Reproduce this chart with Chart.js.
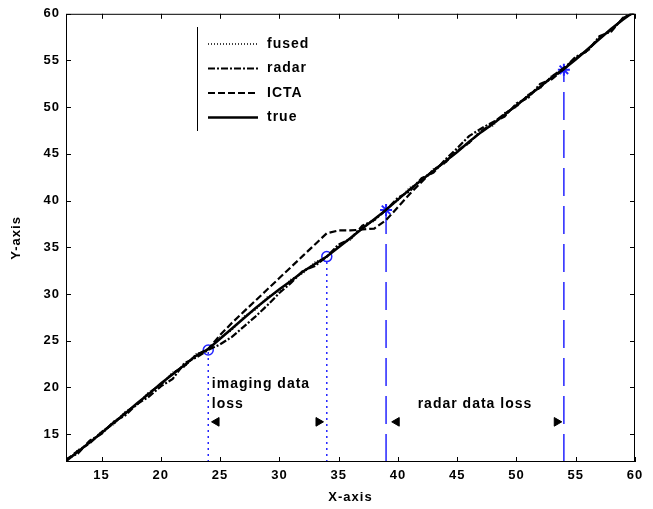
<!DOCTYPE html>
<html lang="en">
<head>
    <meta charset="UTF-8">
    <title>Fused tracking</title>
    <style>
        * { box-sizing: border-box; margin: 0; padding: 0; }
        html, body { width: 653px; height: 509px; background: #fff; }
        #wrap { position: relative; width: 653px; height: 509px; }
    </style>
</head>
<body>
    <div id="wrap"><canvas id="track"></canvas></div>

    <script src="https://cdn.jsdelivr.net/npm/chart.js@4.4.1/dist/chart.umd.min.js"></script>
    <script>
        // x samples shared by all four tracks
        const xs = [12, 13, 14, 15, 16, 17, 18, 19, 20, 21,
            22, 23, 24, 25, 26, 27, 28, 29, 30, 31,
            32, 33, 34, 35, 36, 37, 38, 39, 40, 41,
            42, 43, 44, 45, 46, 47, 48, 49, 50, 51,
            52, 53, 54, 55, 56, 57, 58, 59, 60];

        const fusedY = [12.0, 13.3, 14.0, 15.3, 16.0, 17.4, 18.1, 19.5, 20.2, 21.6,
            22.2, 23.6, 24.0, 25.4, 26.1, 27.6, 28.3, 29.7, 30.3, 31.6,
            32.2, 33.4, 34.0, 35.2, 35.8, 37.2, 37.8, 39.1, 40.0, 41.4,
            42.0, 43.4, 44.0, 45.4, 46.1, 47.6, 48.0, 49.4, 50.0, 51.4,
            52.0, 53.4, 54.0, 55.3, 56.0, 57.5, 58.2, 59.6, 60.1];

        const radarY = [12.3, 12.9, 14.3, 15.0, 16.3, 17.0, 18.2, 19.0, 20.1, 20.9,
            22.6, 23.2, 24.0, 24.6, 25.4, 26.5, 27.6, 28.8, 30.1, 31.2,
            32.5, 33.0, 34.0, 35.3, 35.9, 37.3, 37.9, 39.0, 40.3, 41.0,
            42.4, 43.0, 44.4, 45.6, 46.9, 47.7, 48.4, 49.0, 50.4, 51.0,
            52.5, 53.0, 54.1, 55.4, 56.0, 57.6, 58.1, 59.6, 60.2];

        const ictaY = [12.2, 13.2, 14.0, 15.2, 16.1, 17.3, 18.2, 19.4, 20.3, 21.5,
            22.3, 23.5, 24.1, 25.6, 26.9, 28.1, 29.3, 30.5, 31.7, 32.9,
            34.1, 35.3, 36.5, 36.8, 36.8, 36.9, 37.0, 37.9, 39.3, 40.7,
            42.0, 43.3, 44.1, 45.3, 46.2, 47.4, 48.3, 49.3, 50.1, 51.3,
            52.1, 53.3, 54.2, 55.2, 56.1, 57.4, 58.3, 59.5, 60.2];

        const trueY = [12.1, 13.1, 14.1, 15.1, 16.2, 17.2, 18.3, 19.3, 20.4, 21.4,
            22.4, 23.4, 24.1, 25.2, 26.3, 27.4, 28.5, 29.5, 30.5, 31.4,
            32.4, 33.2, 34.0, 35.0, 36.0, 37.0, 38.0, 39.0, 40.1, 41.2,
            42.2, 43.2, 44.2, 45.2, 46.3, 47.3, 48.2, 49.2, 50.2, 51.2,
            52.2, 53.2, 54.1, 55.1, 56.2, 57.3, 58.4, 59.4, 60.3];

        // where the data losses start/end
        const imagingLoss = [24, 34];   // marked with circles, dotted drop lines
        const radarLoss = [39, 54];     // marked with stars, dashed drop lines
        const arrowY = 16.3;
        const imagingArrowsX = [24.7, 33.3];
        const radarArrowsX = [39.9, 53.4];

        const xTicks = [15, 20, 25, 30, 35, 40, 45, 50, 55, 60];
        const yTicks = [15, 20, 25, 30, 35, 40, 45, 50, 55, 60];

        const notes = [
            { text: 'imaging data', x: 24.3, y: 20.3, align: 'left' },
            { text: 'loss', x: 24.3, y: 18.2, align: 'left' },
            { text: 'radar data loss', x: 46.5, y: 18.2, align: 'center' }
        ];

        const BLUE = '#2323ff';
        const pts = (ys) => xs.map((x, i) => ({ x: x, y: ys[i] }));
        const drop = (x) => [{ x: x, y: 12 }, { x: x, y: x }];

        const lineSet = (label, ys, dash, width) => ({
            label: label, data: pts(ys), borderColor: '#000', borderWidth: width,
            borderDash: dash, pointRadius: 0, fill: false, tension: 0, showLine: true,
            inLegend: true
        });

        const datasets = [
            lineSet('fused', fusedY, [1, 2], 1.5),
            lineSet('radar', radarY, [7, 2, 2, 2], 2.2),
            lineSet('ICTA', ictaY, [7, 3], 2.2),
            lineSet('true', trueY, [], 2.5),
            { data: drop(imagingLoss[0]), showLine: true, borderColor: BLUE, borderWidth: 1.5, borderDash: [2, 4], pointRadius: 0 },
            { data: drop(imagingLoss[1]), showLine: true, borderColor: BLUE, borderWidth: 1.5, borderDash: [2, 4], pointRadius: 0 },
            { data: drop(radarLoss[0]), showLine: true, borderColor: BLUE, borderWidth: 1.5, borderDash: [28, 10], pointRadius: 0 },
            { data: drop(radarLoss[1]), showLine: true, borderColor: BLUE, borderWidth: 1.5, borderDash: [28, 10], pointRadius: 0 },
            {
                data: imagingLoss.map(v => ({ x: v, y: v })), showLine: false, pointStyle: 'circle',
                pointRadius: 5, borderColor: BLUE, backgroundColor: 'rgba(0,0,0,0)', pointBorderWidth: 1.5
            },
            {
                data: radarLoss.map(v => ({ x: v, y: v })), showLine: false, pointStyle: 'star',
                pointRadius: 6, borderColor: BLUE, pointBorderWidth: 2
            },
            {
                data: [{ x: imagingArrowsX[0], y: arrowY }, { x: radarArrowsX[0], y: arrowY }], showLine: false,
                pointStyle: 'triangle', pointRotation: 270, pointRadius: 5, backgroundColor: '#000', borderColor: '#000'
            },
            {
                data: [{ x: imagingArrowsX[1], y: arrowY }, { x: radarArrowsX[1], y: arrowY }], showLine: false,
                pointStyle: 'triangle', pointRotation: 90, pointRadius: 5, backgroundColor: '#000', borderColor: '#000'
            }
        ];

        // box, inward ticks, text notes and the legend
        const framePlugin = {
            id: 'frame',
            beforeDraw(chart) {
                chart.ctx.letterSpacing = '1px';
            },
            afterDraw(chart) {
                const ctx = chart.ctx;
                const a = chart.chartArea;
                const x = chart.scales.x, y = chart.scales.y;
                ctx.save();
                ctx.strokeStyle = '#000';
                ctx.lineWidth = 1;
                ctx.setLineDash([]);
                ctx.strokeRect(a.left + 0.5, a.top + 0.5, a.right - a.left - 1, a.bottom - a.top - 1);
                ctx.beginPath();
                xTicks.forEach(v => {
                    const px = Math.round(x.getPixelForValue(v)) + 0.5;
                    ctx.moveTo(px, a.bottom); ctx.lineTo(px, a.bottom - 5);
                    ctx.moveTo(px, a.top); ctx.lineTo(px, a.top + 5);
                });
                yTicks.forEach(v => {
                    const py = Math.round(y.getPixelForValue(v)) + 0.5;
                    ctx.moveTo(a.left, py); ctx.lineTo(a.left + 5, py);
                    ctx.moveTo(a.right, py); ctx.lineTo(a.right - 5, py);
                });
                ctx.stroke();

                ctx.fillStyle = '#000';
                ctx.font = 'bold 14px "Liberation Sans"';
                ctx.letterSpacing = '1px';
                ctx.textBaseline = 'middle';
                notes.forEach(n => {
                    ctx.textAlign = n.align;
                    ctx.fillText(n.text, x.getPixelForValue(n.x), y.getPixelForValue(n.y));
                });

                // legend box (only its left edge shows)
                ctx.beginPath();
                ctx.moveTo(197.5, 27); ctx.lineTo(197.5, 131);
                ctx.stroke();
                ctx.textAlign = 'left';
                chart.data.datasets.filter(d => d.inLegend).forEach((d, i) => {
                    const ly = 44 + i * 24.5;
                    ctx.beginPath();
                    ctx.lineWidth = d.borderWidth;
                    ctx.setLineDash(d.borderDash);
                    ctx.moveTo(208, ly); ctx.lineTo(258, ly);
                    ctx.stroke();
                    ctx.fillText(d.label, 267, ly);
                });
                ctx.restore();
            }
        };

        Chart.defaults.font.family = '"Liberation Sans", Arial, sans-serif';
        Chart.defaults.font.weight = 'bold';
        Chart.defaults.font.size = 13;
        Chart.defaults.color = '#000';

        new Chart(document.getElementById('track'), {
            type: 'scatter',
            data: { datasets: datasets },
            options: {
                responsive: true,
                maintainAspectRatio: false,
                animation: false,
                events: [],
                layout: { padding: { top: 12, right: 18, left: 0, bottom: 0 } },
                plugins: { legend: { display: false }, tooltip: { enabled: false } },
                scales: {
                    x: {
                        type: 'linear', min: 12, max: 60,
                        grid: { display: false, drawTicks: false },
                        border: { display: false },
                        ticks: { padding: 6 },
                        afterBuildTicks: (s) => { s.ticks = xTicks.map(v => ({ value: v })); },
                        afterFit: (s) => { s.height = 47; },
                        title: { display: true, text: 'X-axis', font: { size: 13, weight: 'bold' }, padding: { bottom: 4 } }
                    },
                    y: {
                        type: 'linear', min: 12, max: 60,
                        grid: { display: false, drawTicks: false },
                        border: { display: false },
                        ticks: { padding: 6 },
                        afterBuildTicks: (s) => { s.ticks = yTicks.map(v => ({ value: v })); },
                        afterFit: (s) => { s.width = 66; },
                        title: { display: true, text: 'Y-axis', font: { size: 13, weight: 'bold' }, padding: { top: 9 } }
                    }
                }
            },
            plugins: [framePlugin]
        });
    </script>
</body>
</html>
